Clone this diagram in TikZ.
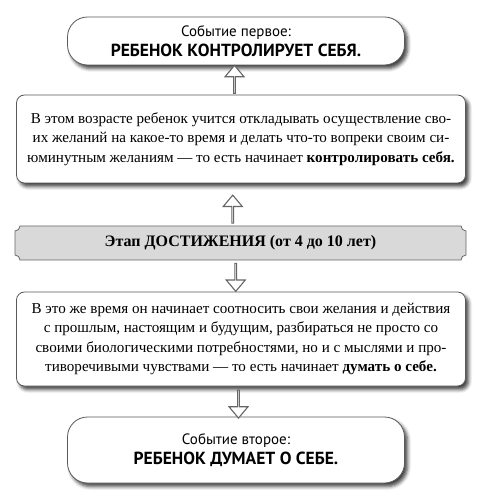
\documentclass[tikz,border=0pt]{standalone}
\usepackage{fontspec}
\setmainfont{Liberation Serif}
\newfontfamily\eventfont{PT Sans}
\usetikzlibrary{positioning,calc,shapes.arrows,shadows.blur}

\begin{document}
\begin{tikzpicture}[x=1pt,y=1pt,
		every node/.style={align=center, inner sep=0pt},
		boxshadow/.style={blur shadow={shadow xshift=3pt, shadow yshift=-3.5pt, shadow blur radius=3.5pt, shadow opacity=75}},
		eventbox/.style={draw=black!65, line width=0.8pt, fill=white, rounded corners=20pt, minimum width=337pt, boxshadow,
				font=\eventfont\fontsize{15}{20.5}\selectfont},
		textbox/.style={draw=black!65, line width=0.8pt, fill=white, rounded corners=8pt, minimum width=449pt, boxshadow,
				font=\fontsize{15.1}{19.6}\selectfont},
		stagefont/.style={font=\bfseries\fontsize{16}{18}\selectfont},
		uparrow/.style={draw=black!60, fill=white, line width=1.1pt, single arrow, shape border rotate=90,
				minimum height=28pt, minimum width=19pt, single arrow head extend=5pt, single arrow tip angle=80},
		downarrow/.style={uparrow, shape border rotate=270}]
	\useasboundingbox (0,0) rectangle (488,-502);
	% first event
	\node[eventbox, minimum height=48pt] (first) at (236,-41)
		{Событие первое:\\ {\bfseries\fontsize{17.5}{20.5}\selectfont РЕБЕНОК КОНТРОЛИРУЕТ СЕБЯ.}};
	% self control
	\node[textbox, minimum height=88pt] (ctrl) at (241,-139)
		{В этом возрасте ребенок учится откладывать осуществление сво-\\
		 их желаний на какое-то время и делать что-то вопреки своим си-\\
		 юминутным желаниям — то есть начинает \textbf{контролировать себя.}};
	% the stage, a banner with notched corners
	\coordinate (stageNW) at (15,-226);
	\coordinate (stageSE) at (466,-260);
	\coordinate (stageN) at ($(stageNW)!0.5!(stageNW -| stageSE)$);
	\coordinate (stageS) at ($(stageSE)!0.5!(stageNW |- stageSE)$);
	\draw[fill=black!15, draw=black!60, line width=0.8pt]
		([xshift=5pt]stageNW) -- ([xshift=-5pt]stageNW -| stageSE)
		arc (180:270:5pt) -- ([yshift=5pt]stageSE)
		arc (90:180:5pt) -- ([xshift=5pt]stageNW |- stageSE)
		arc (0:90:5pt) -- ([yshift=-5pt]stageNW)
		arc (270:360:5pt) -- cycle;
	\node[stagefont] (stage) at ($(stageN)!0.5!(stageS)$) {Этап ДОСТИЖЕНИЯ (от 4 до 10 лет)};
	% thinking about oneself
	\node[textbox, minimum height=94pt] (think) at (241,-339)
		{В это же время он начинает соотносить свои желания и действия\\
		 с прошлым, настоящим и будущим, разбираться не просто со\\
		 своими биологическими потребностями, но и с мыслями и про-\\
		 тиворечивыми чувствами — то есть начинает \textbf{думать о себе.}};
	% second event
	\node[eventbox, minimum height=66pt] (second) at (236,-450)
		{Событие второе:\\ {\bfseries\fontsize{17.5}{20.5}\selectfont РЕБЕНОК ДУМАЕТ О СЕБЕ.}};
	% arrows between the boxes
	\node[uparrow] (upA) at ([xshift=-4pt]$(first.south)!0.5!(ctrl.north)$) {};
	\node[uparrow] (upB) at ([xshift=-8pt,yshift=-5pt]$(ctrl.south)!0.5!(stageN)$) {};
	\node[downarrow] (downA) at ([xshift=-5pt,yshift=-1pt]$(stageS)!0.5!(think.north)$) {};
	\node[downarrow] (downB) at ([yshift=-2pt]$(think.south)!0.5!(second.north)$) {};
\end{tikzpicture}
\end{document}
